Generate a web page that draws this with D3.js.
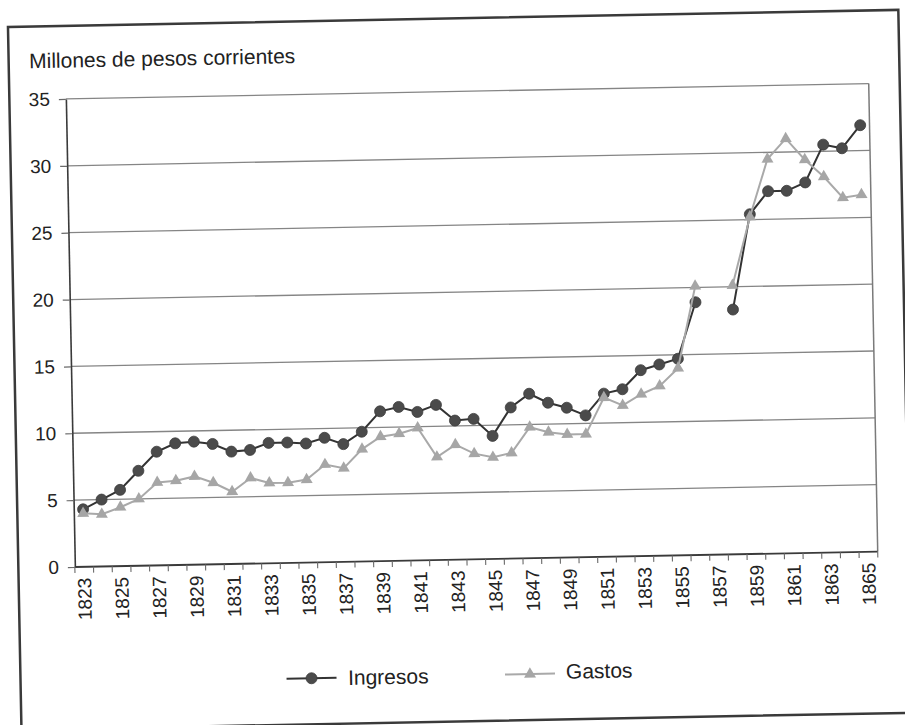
<!DOCTYPE html>
<html>
<head>
<meta charset="utf-8">
<script src="https://cdn.jsdelivr.net/npm/d3@7/dist/d3.min.js"></script>
<style>
  html, body { margin: 0; padding: 0; background: #ffffff; }
  svg { display: block; }
</style>
</head>
<body>
<svg id="chart" width="905" height="725"></svg>
<script>
// Years on the category axis
const years = [1823, 1824, 1825, 1826, 1827, 1828, 1829, 1830, 1831, 1832,
               1833, 1834, 1835, 1836, 1837, 1838, 1839, 1840, 1841, 1842,
               1843, 1844, 1845, 1846, 1847, 1848, 1849, 1850, 1851, 1852,
               1853, 1854, 1855, 1856, 1857, 1858, 1859, 1860, 1861, 1862,
               1863, 1864, 1865];

// Ingresos (millones de pesos corrientes); 1857 sin dato
const ingresos = [4.3, 5.0, 5.7, 7.1, 8.5, 9.1, 9.2, 9.0, 8.4, 8.5,
                  9.0, 9.0, 8.9, 9.3, 8.8, 9.7, 11.2, 11.5, 11.1, 11.6,
                  10.4, 10.5, 9.2, 11.3, 12.3, 11.6, 11.2, 10.6, 12.2, 12.5,
                  13.9, 14.3, 14.7, 18.9, null, 18.3, 25.4, 27.1, 27.1, 27.7,
                  30.5, 30.2, 31.9];

// Gastos (millones de pesos corrientes); 1857 sin dato
const gastos = [4.0, 3.9, 4.4, 5.0, 6.2, 6.3, 6.6, 6.1, 5.4, 6.4,
                6.0, 6.0, 6.2, 7.3, 7.0, 8.4, 9.3, 9.5, 9.9, 7.7,
                8.6, 7.9, 7.6, 7.9, 9.8, 9.4, 9.2, 9.2, 11.9, 11.3,
                12.1, 12.7, 14.0, 20.1, null, 20.1, 25.2, 29.5, 31.0, 29.4,
                28.1, 26.5, 26.7];

const yTicks = [0, 5, 10, 15, 20, 25, 30, 35];
const xTickLabels = [1823, 1825, 1827, 1829, 1831, 1833, 1835, 1837, 1839, 1841,
                     1843, 1845, 1847, 1849, 1851, 1853, 1855, 1857, 1859, 1861,
                     1863, 1865];

const FONT = "'Liberation Sans', Arial, Helvetica, sans-serif";
const TEXT = "#222222";

const svg = d3.select("#chart");
// whole page sits slightly tilted
const page = svg.append("g").attr("transform", "rotate(-1.1 452.5 362.5)");

// outer frame
page.append("rect")
  .attr("x", 14.5).attr("y", 18.5)
  .attr("width", 890.5).attr("height", 703)
  .attr("fill", "#ffffff")
  .attr("stroke", "#3a3a3a")
  .attr("stroke-width", 2.5);

const plot = { left: 71, right: 874, top: 91.6, bottom: 559.7 };

const x = d3.scaleBand().domain(years).range([plot.left, plot.right]).padding(0);
const y = d3.scaleLinear().domain([0, 35]).range([plot.bottom, plot.top]);
const cx = yr => x(yr) + x.bandwidth() / 2;

// title
page.append("text")
  .attr("x", 35).attr("y", 60.2)
  .attr("font-family", FONT).attr("font-size", 21)
  .attr("fill", TEXT)
  .text("Millones de pesos corrientes");

// horizontal gridlines
page.append("g")
  .selectAll("line")
  .data(yTicks.filter(t => t > 0))
  .join("line")
  .attr("x1", plot.left).attr("x2", plot.right)
  .attr("y1", d => y(d)).attr("y2", d => y(d))
  .attr("stroke", "#858585")
  .attr("stroke-width", 1.3);

// right border of plot area
page.append("line")
  .attr("x1", plot.right).attr("x2", plot.right)
  .attr("y1", y(35)).attr("y2", y(0))
  .attr("stroke", "#7a7a7a")
  .attr("stroke-width", 1.5);

// y axis
const yAxis = page.append("g")
  .attr("transform", `translate(${plot.left},0)`)
  .call(d3.axisLeft(y).tickValues(yTicks).tickSize(7).tickSizeOuter(0).tickPadding(9));
yAxis.select(".domain").attr("stroke", "#3a3a3a").attr("stroke-width", 1.6);
yAxis.selectAll(".tick line").attr("stroke", "#6a6a6a").attr("stroke-width", 1.2);
yAxis.selectAll(".tick text")
  .attr("font-family", FONT).attr("font-size", 19).attr("fill", TEXT);

// x axis line
page.append("line")
  .attr("x1", plot.left).attr("x2", plot.right)
  .attr("y1", y(0)).attr("y2", y(0))
  .attr("stroke", "#3a3a3a").attr("stroke-width", 1.8);

// x ticks between categories
const boundaries = years.map(yr => x(yr)).concat([x.range()[1]]);
page.append("g")
  .selectAll("line")
  .data(boundaries)
  .join("line")
  .attr("x1", d => d).attr("x2", d => d)
  .attr("y1", y(0)).attr("y2", y(0) + 6)
  .attr("stroke", "#6a6a6a").attr("stroke-width", 1.1);

// x labels, vertical
page.append("g")
  .selectAll("text")
  .data(xTickLabels)
  .join("text")
  .attr("transform", d => `translate(${cx(d)},${y(0) + 11}) rotate(-90)`)
  .attr("text-anchor", "end")
  .attr("dy", "0.35em")
  .attr("font-family", FONT).attr("font-size", 19)
  .attr("fill", TEXT)
  .text(d => d);

// series
const ingData = years.map((yr, i) => ({ yr, v: ingresos[i] }));
const gasData = years.map((yr, i) => ({ yr, v: gastos[i] }));

const line = d3.line()
  .defined(d => d.v != null)
  .x(d => cx(d.yr))
  .y(d => y(d.v));

const ING_LINE = "#333333", ING_FILL = "#4b4b4b";
const GAS_LINE = "#a9a9a9", GAS_FILL = "#a6a6a6";

page.append("path")
  .datum(ingData)
  .attr("d", line)
  .attr("fill", "none")
  .attr("stroke", ING_LINE)
  .attr("stroke-width", 2);

page.append("g")
  .selectAll("circle")
  .data(ingData.filter(d => d.v != null))
  .join("circle")
  .attr("cx", d => cx(d.yr))
  .attr("cy", d => y(d.v))
  .attr("r", 5.5)
  .attr("fill", ING_FILL)
  .attr("stroke", "#3c3c3c")
  .attr("stroke-width", 0.8);

page.append("path")
  .datum(gasData)
  .attr("d", line)
  .attr("fill", "none")
  .attr("stroke", GAS_LINE)
  .attr("stroke-width", 2);

const tri = d3.symbol().type(d3.symbolTriangle).size(62);
page.append("g")
  .selectAll("path")
  .data(gasData.filter(d => d.v != null))
  .join("path")
  .attr("d", tri)
  .attr("transform", d => `translate(${cx(d.yr)},${y(d.v)})`)
  .attr("fill", GAS_FILL);

// legend
const legend = page.append("g");
const legY = 675.5;

legend.append("line")
  .attr("x1", 280.5).attr("x2", 330.5)
  .attr("y1", legY).attr("y2", legY)
  .attr("stroke", ING_LINE).attr("stroke-width", 2);
legend.append("circle")
  .attr("cx", 305.5).attr("cy", legY).attr("r", 5.5)
  .attr("fill", ING_FILL).attr("stroke", "#3c3c3c").attr("stroke-width", 0.8);
legend.append("text")
  .attr("x", 342).attr("y", legY).attr("dy", "0.35em")
  .attr("font-family", FONT).attr("font-size", 21).attr("fill", TEXT)
  .text("Ingresos");

legend.append("line")
  .attr("x1", 499).attr("x2", 549)
  .attr("y1", legY).attr("y2", legY)
  .attr("stroke", GAS_LINE).attr("stroke-width", 2);
legend.append("path")
  .attr("d", tri)
  .attr("transform", `translate(524,${legY})`)
  .attr("fill", GAS_FILL);
legend.append("text")
  .attr("x", 560).attr("y", legY - 2).attr("dy", "0.35em")
  .attr("font-family", FONT).attr("font-size", 21).attr("fill", TEXT)
  .text("Gastos");
</script>
</body>
</html>
